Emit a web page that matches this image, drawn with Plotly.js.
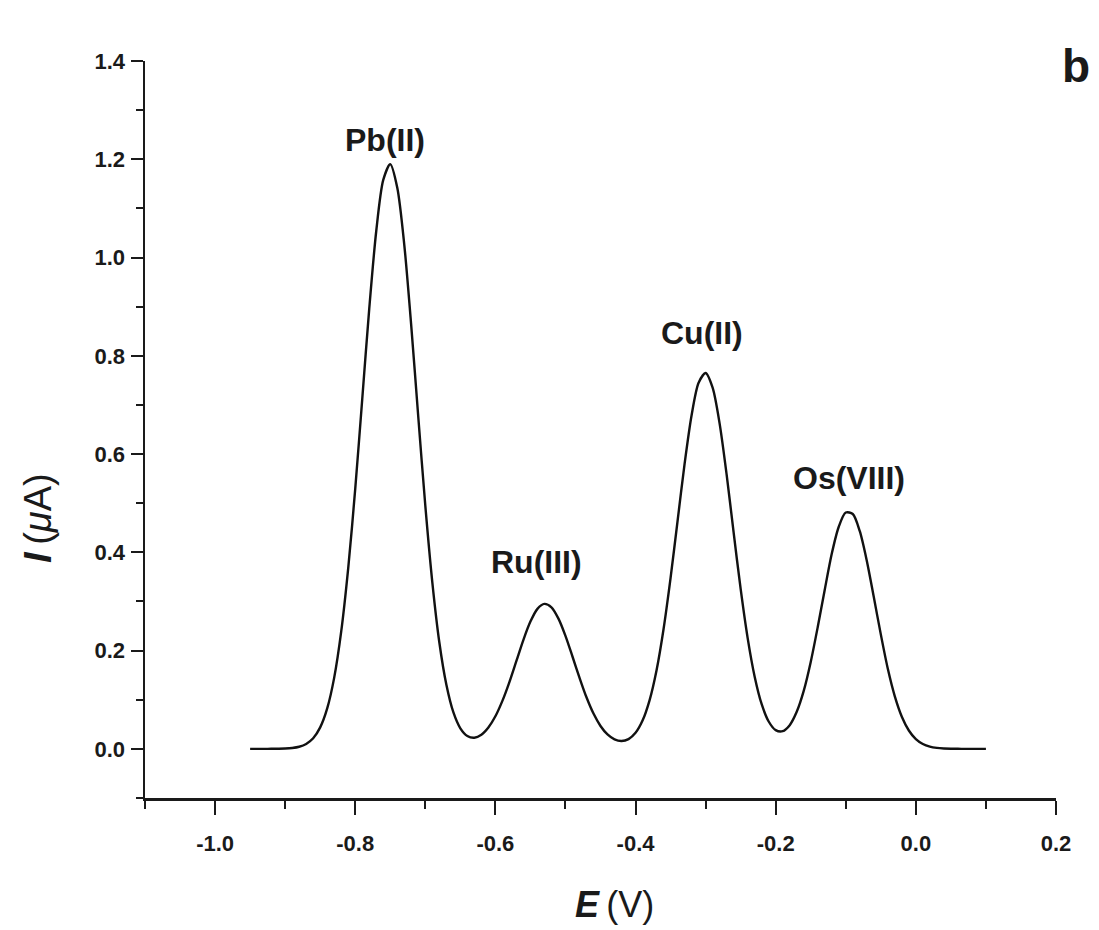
<!DOCTYPE html>
<html>
<head>
<meta charset="utf-8">
<script src="https://cdn.plot.ly/plotly-3.0.1.min.js"></script>
<style>html,body{margin:0;padding:0;background:#fff;}#chart{width:1099px;height:930px;}</style>
</head>
<body>
<div id="chart"></div>
<script>
// Potential (V)
const potential = [
-0.95,-0.94,-0.93,-0.92,-0.91,-0.90,-0.89,-0.88,-0.87,-0.86,
-0.85,-0.84,-0.83,-0.82,-0.81,-0.80,-0.79,-0.78,-0.77,-0.76,
-0.75,-0.74,-0.73,-0.72,-0.71,-0.70,-0.69,-0.68,-0.67,-0.66,
-0.65,-0.64,-0.63,-0.62,-0.61,-0.60,-0.59,-0.58,-0.57,-0.56,
-0.55,-0.54,-0.53,-0.52,-0.51,-0.50,-0.49,-0.48,-0.47,-0.46,
-0.45,-0.44,-0.43,-0.42,-0.41,-0.40,-0.39,-0.38,-0.37,-0.36,
-0.35,-0.34,-0.33,-0.32,-0.31,-0.30,-0.29,-0.28,-0.27,-0.26,
-0.25,-0.24,-0.23,-0.22,-0.21,-0.20,-0.19,-0.18,-0.17,-0.16,
-0.15,-0.14,-0.13,-0.12,-0.11,-0.10,-0.09,-0.08,-0.07,-0.06,
-0.05,-0.04,-0.03,-0.02,-0.01,0.00,0.01,0.02,0.03,0.04,
0.05,0.06,0.07,0.08,0.09,0.10];
// Current (uA)
const current = [
0,0,0,0.0001,0.0003,0.0007,0.0018,0.0043,0.0100,0.0216,
0.0437,0.0823,0.145,0.239,0.368,0.529,0.712,0.896,1.054,1.158,
1.190,1.142,1.026,0.860,0.675,0.495,0.339,0.217,0.131,0.0746,
0.0419,0.0262,0.0227,0.0287,0.0434,0.0663,0.0977,0.136,0.179,0.222,
0.259,0.285,0.295,0.288,0.265,0.230,0.188,0.145,0.105,0.0718,
0.0466,0.0293,0.0192,0.0159,0.0198,0.0326,0.0575,0.0987,0.160,0.244,
0.348,0.464,0.580,0.679,0.745,0.765,0.735,0.662,0.558,0.440,
0.3255,0.2255,0.147,0.0909,0.0557,0.0381,0.0360,0.0483,0.0754,0.118,
0.177,0.248,0.324,0.397,0.452,0.481,0.478,0.443,0.383,0.309,
0.233,0.163,0.107,0.0655,0.0374,0.0199,0.0099,0.0046,0.0020,0.0008,
0.0003,0.0001,0,0,0,0];

const peakLabels = ["Pb(II)", "Ru(III)", "Cu(II)", "Os(VIII)"];
const peakLabelX = [-0.758, -0.541, -0.3055, -0.096];
const peakLabelY = [1.240, 0.381, 0.847, 0.552];

const xTickVals = [-1.0, -0.8, -0.6, -0.4, -0.2, 0.0, 0.2];
const xTickText = ["-1.0", "-0.8", "-0.6", "-0.4", "-0.2", "0.0", "0.2"];
const xMinorVals = [-1.1, -0.9, -0.7, -0.5, -0.3, -0.1, 0.1];
const yTickVals = [0.0, 0.2, 0.4, 0.6, 0.8, 1.0, 1.2, 1.4];
const yTickText = ["0.0", "0.2", "0.4", "0.6", "0.8", "1.0", "1.2", "1.4"];
const yMinorVals = [-0.1, 0.1, 0.3, 0.5, 0.7, 0.9, 1.1, 1.3];

const FONT = "Arial, 'Liberation Sans', Helvetica, sans-serif";
const INK = "#1a1a1a";

// plot-area pixel geometry (for placing paper-referenced text)
const PL = 145, PR = 1056, PT = 61, PB = 798;
const px2paperX = p => (p - PL) / (PR - PL);
const px2paperY = p => (PB - p) / (PB - PT);

const trace = {
  x: potential, y: current, type: "scatter", mode: "lines",
  line: {color: "#111", width: 2.4, shape: "spline", smoothing: 0.8},
  hoverinfo: "skip", showlegend: false
};

const annotations = peakLabels.map((t, i) => ({
  x: peakLabelX[i], y: peakLabelY[i], xref: "x", yref: "y",
  text: "<b>" + t + "</b>", showarrow: false,
  font: {family: FONT, size: 32, color: INK},
  xanchor: "center", yanchor: "middle"
}));
annotations.push({
  x: px2paperX(1076), y: px2paperY(66), xref: "paper", yref: "paper",
  text: "<b>b</b>", showarrow: false,
  font: {family: FONT, size: 46, color: INK},
  xanchor: "center", yanchor: "middle"
});
// axis titles
annotations.push({
  x: px2paperX(614), y: px2paperY(904), xref: "paper", yref: "paper",
  text: "<b><i>E</i></b>\u2009(V)", showarrow: false,
  font: {family: FONT, size: 36, color: INK},
  xanchor: "center", yanchor: "middle"
});
annotations.push({
  x: px2paperX(38), y: px2paperY(518), xref: "paper", yref: "paper",
  text: "<b><i>I</i></b>\u2009(<i>μ</i>A)", showarrow: false, textangle: -90,
  font: {family: FONT, size: 38, color: INK},
  xanchor: "center", yanchor: "middle"
});

const axisCommon = {
  showline: true, linecolor: INK, linewidth: 2.5, mirror: false,
  showgrid: false, zeroline: false, ticks: "outside", tickwidth: 2,
  tickcolor: INK, tickmode: "array",
  tickfont: {family: FONT, size: 22, color: INK, weight: "bold"}
};

const layout = {
  width: 1099, height: 930,
  margin: {l: PL, r: 1099 - PR, t: PT, b: 930 - PB},
  paper_bgcolor: "#fff", plot_bgcolor: "#fff",
  showlegend: false,
  xaxis: Object.assign({}, axisCommon, {
    range: [-1.1, 0.2], tickvals: xTickVals, ticktext: xTickText,
    ticklen: 14, ticklabelstandoff: 10,
    minor: {tickmode: "array", tickvals: xMinorVals, ticks: "outside", ticklen: 8, tickwidth: 2, tickcolor: INK, showgrid: false}
  }),
  yaxis: Object.assign({}, axisCommon, {
    range: [-0.1, 1.4], tickvals: yTickVals, ticktext: yTickText,
    ticklen: 12, ticklabelstandoff: 1,
    minor: {tickmode: "array", tickvals: yMinorVals, ticks: "outside", ticklen: 7, tickwidth: 2, tickcolor: INK, showgrid: false}
  }),
  annotations: annotations
};

Plotly.newPlot("chart", [trace], layout, {displayModeBar: false, staticPlot: true});
</script>
</body>
</html>
